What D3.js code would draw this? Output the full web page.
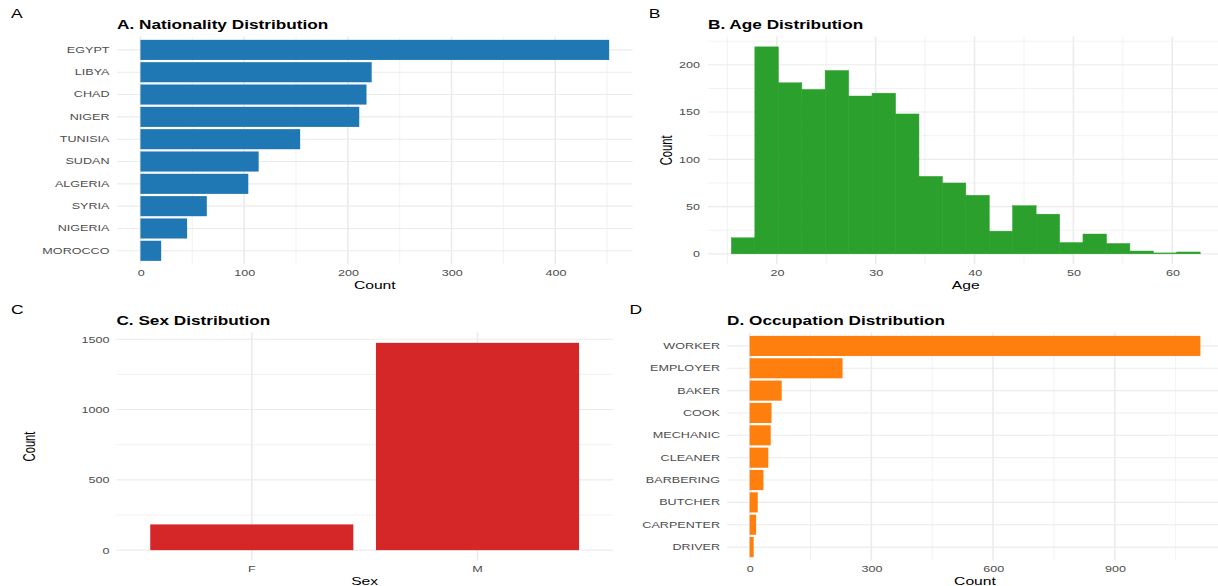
<!DOCTYPE html>
<html>
<head>
<meta charset="utf-8">
<script src="https://cdn.jsdelivr.net/npm/d3@7"></script>
<style>
  html, body { margin: 0; padding: 0; background: #fff; }
  svg { display: block; font-family: "Liberation Sans", Arial, sans-serif; }
</style>
</head>
<body>
<div id="chart"></div>
<script>
// data
const nationalities = ["EGYPT", "LIBYA", "CHAD", "NIGER", "TUNISIA", "SUDAN", "ALGERIA", "SYRIA", "NIGERIA", "MOROCCO"];
const nationalityCounts = [452, 223, 218, 211, 154, 114, 104, 64, 45, 20];
const nationalityTicks = [0, 100, 200, 300, 400];

const ageBinStart = 15.42;
const ageBinWidth = 2.37;
const ageCounts = [17, 219, 181, 174, 194, 167, 170, 148, 82, 75, 62, 24, 51, 42, 12, 21, 11, 3, 1, 2];
const ageTicks = [20, 30, 40, 50, 60];
const ageCountTicks = [0, 50, 100, 150, 200];

const sexes = ["F", "M"];
const sexCounts = [183, 1474];
const sexCountTicks = [0, 500, 1000, 1500];

const occupations = ["WORKER", "EMPLOYER", "BAKER", "COOK", "MECHANIC", "CLEANER", "BARBERING", "BUTCHER", "CARPENTER", "DRIVER"];
const occupationCounts = [1111, 229, 79, 54, 52, 46, 34, 20, 16, 10];
const occupationTicks = [0, 300, 600, 900];

// the picture is stretched sideways, so draw in a narrower viewBox
const W = 1218, H = 586, R = 1.4;
const sx = v => v / R;

const svg = d3.select("#chart").append("svg")
  .attr("width", W)
  .attr("height", H)
  .attr("viewBox", `0 0 ${W / R} ${H}`)
  .attr("preserveAspectRatio", "none");

const GRID = "#ebebeb";
const TICK = "#4d4d4d";
const fmt = d3.format("d");

const expand = (lo, hi) => {
  const e = (hi - lo) * 0.05;
  return [lo - e, hi + e];
};

const minorOf = (ticks, domain) => {
  const s = ticks[1] - ticks[0];
  return d3.range(ticks[0] - s / 2, domain[1], s).filter(v => v >= domain[0] && v <= domain[1]);
};

function vLines(vals, pos, y0, y1, w) {
  svg.append("g").selectAll("line").data(vals).join("line")
    .attr("x1", pos).attr("x2", pos)
    .attr("y1", y0).attr("y2", y1)
    .attr("stroke", GRID).attr("stroke-width", w);
}

function hLines(vals, pos, x0, x1, w) {
  svg.append("g").selectAll("line").data(vals).join("line")
    .attr("y1", pos).attr("y2", pos)
    .attr("x1", x0).attr("x2", x1)
    .attr("stroke", GRID).attr("stroke-width", w);
}

function axis(gen, transform) {
  const g = svg.append("g").attr("transform", transform).call(gen);
  g.attr("font-family", null).attr("font-size", 9);
  g.select(".domain").remove();
  g.selectAll("text").attr("fill", TICK);
  return g;
}

function titles(o) {
  svg.append("text").attr("x", sx(o.tagX)).attr("y", o.tagY)
    .attr("font-size", 12.5).text(o.tag);
  svg.append("text").attr("x", o.left).attr("y", o.titleY)
    .attr("font-size", 12.3).attr("font-weight", "bold").text(o.title);
  svg.append("text").attr("x", (o.left + o.right) / 2).attr("y", o.xTitleY)
    .attr("text-anchor", "middle").attr("font-size", 11.2).text(o.xTitle);
  if (o.yTitle) {
    svg.append("text")
      .attr("transform", `translate(${sx(o.yTitleX) + 4},${(o.top + o.bottom) / 2}) rotate(-90)`)
      .attr("text-anchor", "middle").attr("font-size", 11.2).text(o.yTitle);
  }
}

// ---- A. Nationality ----
{
  const left = sx(117), right = sx(632.6), top = 36.5, bottom = 264.2;
  const x = d3.scaleLinear().domain(expand(0, d3.max(nationalityCounts))).range([left, right]);
  const y = d3.scaleBand().domain(nationalities).range([top, bottom]).paddingInner(0.1).paddingOuter(0.15);

  vLines(minorOf(nationalityTicks, x.domain()), d => x(d), top, bottom, 0.55);
  vLines(nationalityTicks, d => x(d), top, bottom, 1.1);
  hLines(nationalities, d => y(d) + y.bandwidth() / 2, left, right, 1.1);

  svg.append("g").selectAll("rect").data(nationalities).join("rect")
    .attr("x", x(0))
    .attr("y", d => y(d))
    .attr("width", (d, i) => x(nationalityCounts[i]) - x(0))
    .attr("height", y.bandwidth())
    .attr("fill", "#1f77b4");

  axis(d3.axisBottom(x).tickValues(nationalityTicks).tickFormat(fmt).tickSize(0).tickPadding(5.6), `translate(0,${bottom})`);
  axis(d3.axisLeft(y).tickSize(0).tickPadding(sx(7.5)), `translate(${left},0)`);

  titles({ tag: "A", tagX: 11, tagY: 18.3, title: "A. Nationality Distribution", titleY: 29,
    left, right, top, bottom, xTitle: "Count", xTitleY: 289 });
}

// ---- B. Age ----
{
  const left = sx(708), right = sx(1223.6), top = 36.5, bottom = 264.2;
  const ageEnd = ageBinStart + ageCounts.length * ageBinWidth;
  const x = d3.scaleLinear().domain(expand(ageBinStart, ageEnd)).range([left, right]);
  const y = d3.scaleLinear().domain(expand(0, d3.max(ageCounts))).range([bottom, top]);

  vLines(minorOf(ageTicks, x.domain()), d => x(d), top, bottom, 0.55);
  hLines(minorOf(ageCountTicks, y.domain()), d => y(d), left, right, 0.55);
  vLines(ageTicks, d => x(d), top, bottom, 1.1);
  hLines(ageCountTicks, d => y(d), left, right, 1.1);

  svg.append("g").selectAll("rect").data(ageCounts).join("rect")
    .attr("x", (d, i) => x(ageBinStart + i * ageBinWidth))
    .attr("width", x(ageBinStart + ageBinWidth) - x(ageBinStart))
    .attr("y", d => y(d))
    .attr("height", d => y(0) - y(d))
    .attr("fill", "#2ca02c")
    .attr("stroke", "#2ca02c")
    .attr("stroke-width", 0.4);

  axis(d3.axisBottom(x).tickValues(ageTicks).tickFormat(fmt).tickSize(0).tickPadding(5.6), `translate(0,${bottom})`);
  axis(d3.axisLeft(y).tickValues(ageCountTicks).tickFormat(fmt).tickSize(0).tickPadding(sx(8)), `translate(${left},0)`);

  titles({ tag: "B", tagX: 648.8, tagY: 18.3, title: "B. Age Distribution", titleY: 29,
    left, right, top, bottom, xTitle: "Age", xTitleY: 289, yTitle: "Count", yTitleX: 666.6 });
}

// ---- C. Sex ----
{
  const left = sx(116.4), right = sx(612.9), top = 332.5, bottom = 560.5;
  const x = d3.scaleBand().domain(sexes).range([left, right]).paddingInner(0.1).paddingOuter(0.15);
  const y = d3.scaleLinear().domain(expand(0, d3.max(sexCounts))).range([bottom, top]);

  hLines(minorOf(sexCountTicks, y.domain()), d => y(d), left, right, 0.55);
  hLines(sexCountTicks, d => y(d), left, right, 1.1);
  vLines(sexes, d => x(d) + x.bandwidth() / 2, top, bottom, 1.1);

  svg.append("g").selectAll("rect").data(sexes).join("rect")
    .attr("x", d => x(d))
    .attr("width", x.bandwidth())
    .attr("y", (d, i) => y(sexCounts[i]))
    .attr("height", (d, i) => y(0) - y(sexCounts[i]))
    .attr("fill", "#d62728");

  axis(d3.axisBottom(x).tickSize(0).tickPadding(5.4), `translate(0,${bottom})`);
  axis(d3.axisLeft(y).tickValues(sexCountTicks).tickFormat(fmt).tickSize(0).tickPadding(sx(6.9)), `translate(${left},0)`);

  titles({ tag: "C", tagX: 11, tagY: 314, title: "C. Sex Distribution", titleY: 324.7,
    left, right, top, bottom, xTitle: "Sex", xTitleY: 585, yTitle: "Count", yTitleX: 29.2 });
}

// ---- D. Occupation ----
{
  const left = sx(727.1), right = sx(1222.9), top = 332.5, bottom = 560.5;
  const x = d3.scaleLinear().domain(expand(0, d3.max(occupationCounts))).range([left, right]);
  const y = d3.scaleBand().domain(occupations).range([top, bottom]).paddingInner(0.1).paddingOuter(0.15);

  vLines(minorOf(occupationTicks, x.domain()), d => x(d), top, bottom, 0.55);
  vLines(occupationTicks, d => x(d), top, bottom, 1.1);
  hLines(occupations, d => y(d) + y.bandwidth() / 2, left, right, 1.1);

  svg.append("g").selectAll("rect").data(occupations).join("rect")
    .attr("x", x(0))
    .attr("y", d => y(d))
    .attr("width", (d, i) => x(occupationCounts[i]) - x(0))
    .attr("height", y.bandwidth())
    .attr("fill", "#ff7f0e");

  axis(d3.axisBottom(x).tickValues(occupationTicks).tickFormat(fmt).tickSize(0).tickPadding(5.4), `translate(0,${bottom})`);
  axis(d3.axisLeft(y).tickSize(0).tickPadding(sx(7.1)), `translate(${left},0)`);

  titles({ tag: "D", tagX: 629.4, tagY: 314, title: "D. Occupation Distribution", titleY: 324.7,
    left, right, top, bottom, xTitle: "Count", xTitleY: 585 });
}
</script>
</body>
</html>
